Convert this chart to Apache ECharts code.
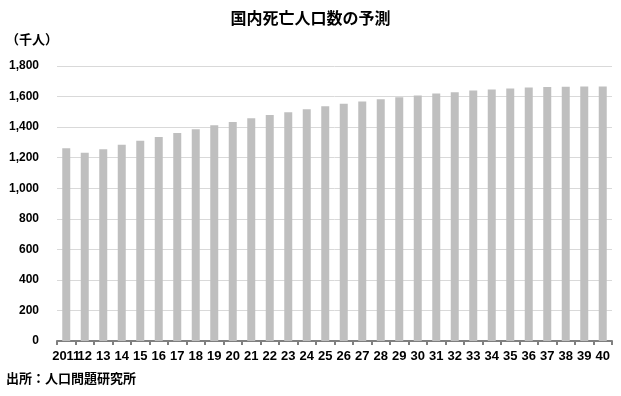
<!DOCTYPE html>
<html><head><meta charset="utf-8">
<script src="https://cdn.jsdelivr.net/npm/echarts@6/dist/echarts.min.js"></script>
<style>html,body{margin:0;padding:0;background:#fff}#c{width:621px;height:396px}</style>
</head><body><div id="c"></div>
<script>
const categories = ['2011','12','13','14','15','16','17','18','19','20','21','22','23','24','25','26','27','28','29','30','31','32','33','34','35','36','37','38','39','40'];
const deaths = [1262,1232,1255,1284,1310,1336,1362,1386,1412,1434,1458,1480,1497,1517,1536,1553,1568,1583,1596,1607,1620,1629,1640,1646,1653,1660,1662,1664,1666,1666];
const yTicks = [0,200,400,600,800,1000,1200,1400,1600,1800];
const title = '国内死亡人口数の予測';
const unit = '（千人）';
const source = '出所：人口問題研究所';

const chart = echarts.init(document.getElementById('c'));
const jp = '"Noto Sans CJK JP", sans-serif';
const num = '"Liberation Sans", Arial, sans-serif';
chart.setOption({
  animation: false,
  title: {text: title, left: 'center', top: 5, textStyle: {fontFamily: jp, fontSize: 16, fontWeight: 'bold', color: '#000'}},
  graphic: [
    {type: 'text', left: 6, top: 33, style: {text: unit, fontFamily: jp, fontSize: 13, fontWeight: 'bold', fill: '#000'}},
    {type: 'text', left: 6, top: 372, style: {text: source, fontFamily: jp, fontSize: 13, fontWeight: 'bold', fill: '#000'}}
  ],
  grid: {left: 57, right: 9, top: 66, bottom: 55, containLabel: false},
  xAxis: {
    type: 'category', data: categories,
    axisLine: {lineStyle: {color: '#7f7f7f', width: 2}},
    axisTick: {show: true, length: 4, lineStyle: {color: '#7f7f7f', width: 2}},
    axisLabel: {interval: 0, margin: 9, fontFamily: num, fontSize: 13, fontWeight: 'bold', color: '#000'}
  },
  yAxis: {
    type: 'value', min: yTicks[0], max: yTicks[yTicks.length-1], interval: 200,
    axisLine: {show: false}, axisTick: {show: false},
    splitLine: {lineStyle: {color: '#d9d9d9', width: 1}},
    axisLabel: {margin: 18, fontFamily: num, fontSize: 12, fontWeight: 'bold', color: '#000',
      formatter: v => v.toLocaleString('en-US')}
  },
  series: [{type: 'bar', data: deaths, barWidth: 8, itemStyle: {color: '#bfbfbf'}}]
});
</script></body></html>
